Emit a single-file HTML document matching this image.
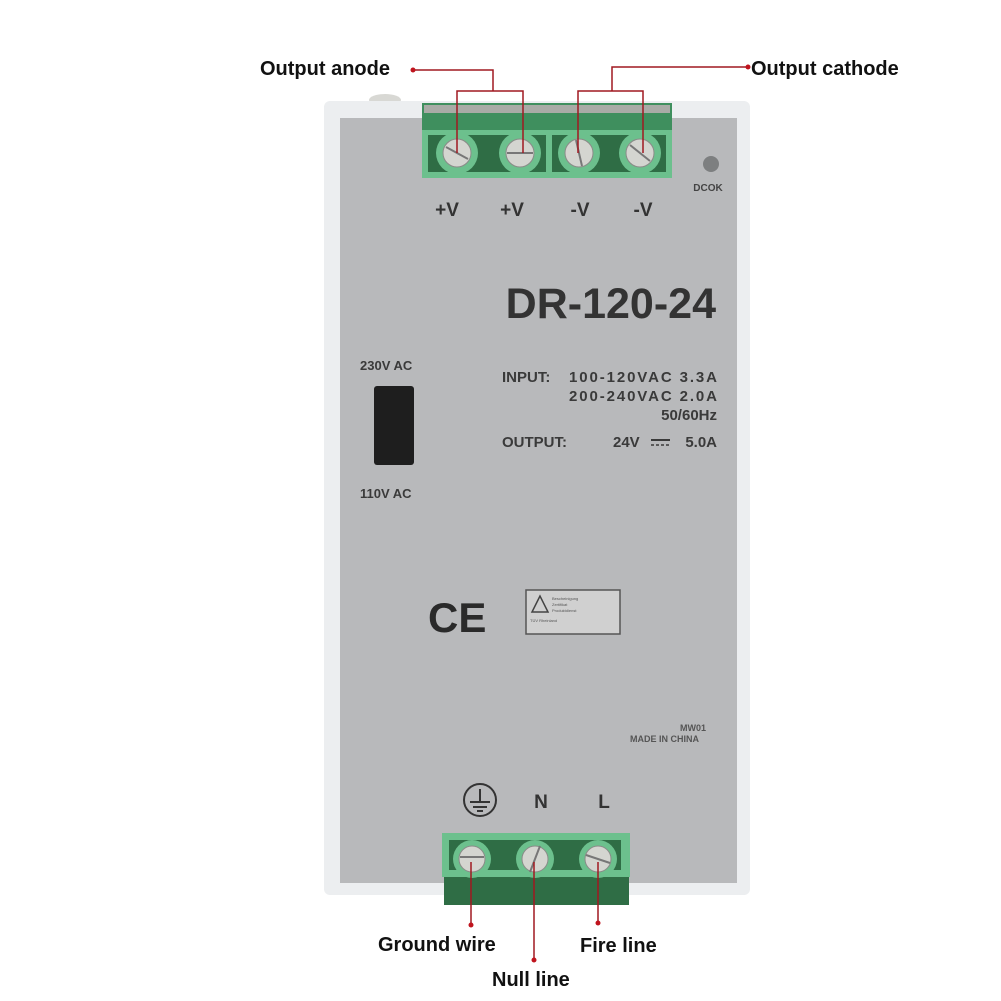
<!DOCTYPE html>
<html><head><style>
html,body{margin:0;padding:0;background:#fff;}
svg{display:block;font-family:"Liberation Sans",Arial,sans-serif;}
</style></head><body>
<svg width="1001" height="1001" viewBox="0 0 1001 1001" xmlns="http://www.w3.org/2000/svg">
<rect width="1001" height="1001" fill="#fff"/>
<ellipse cx="385" cy="100" rx="16" ry="6" fill="#d8d8d4"/>
<rect x="324" y="101" width="426" height="794" rx="6" fill="#eceef0"/>
<rect x="340" y="118" width="397" height="765" fill="#b8b9bb"/>
<rect x="422" y="103" width="250" height="40" fill="#3f8f5e"/>
<rect x="424" y="105" width="246" height="8" fill="#a9aba6"/>
<rect x="422" y="130" width="250" height="48" fill="#6cc08d"/>
<rect x="428" y="135" width="118" height="37" fill="#2f6d45"/>
<rect x="552" y="135" width="114" height="37" fill="#2f6d45"/>
<g fill="#6cc08d">
<circle cx="457" cy="153" r="21"/><circle cx="520" cy="153" r="21"/>
<circle cx="579" cy="153" r="21"/><circle cx="640" cy="153" r="21"/>
</g>
<g fill="#d4d5d0" stroke="#8a8b88" stroke-width="1">
<circle cx="457" cy="153" r="14"/><circle cx="520" cy="153" r="14"/>
<circle cx="579" cy="153" r="14"/><circle cx="640" cy="153" r="14"/>
</g>
<g stroke="#777" stroke-width="2">
<line x1="446" y1="147" x2="468" y2="159"/><line x1="507" y1="153" x2="533" y2="153"/>
<line x1="576" y1="140" x2="582" y2="166"/><line x1="630" y1="145" x2="650" y2="161"/>
</g>
<circle cx="711" cy="164" r="8" fill="#7d7f80"/>
<text x="708" y="191" font-size="10" font-weight="bold" fill="#444" text-anchor="middle">DCOK</text>
<g font-size="19" font-weight="bold" fill="#333" text-anchor="middle">
<text x="447" y="216">+V</text><text x="512" y="216">+V</text>
<text x="580" y="216">-V</text><text x="643" y="216">-V</text>
</g>
<text x="716" y="318" font-size="43" font-weight="bold" fill="#333" text-anchor="end">DR-120-24</text>
<g font-size="15" font-weight="bold" fill="#3a3a3a">
<text x="502" y="382">INPUT:</text>
<text x="569" y="382" textLength="148" lengthAdjust="spacing">100-120VAC 3.3A</text>
<text x="569" y="401" textLength="148" lengthAdjust="spacing">200-240VAC 2.0A</text>
<text x="717" y="420" text-anchor="end">50/60Hz</text>
<text x="502" y="447">OUTPUT:</text>
<text x="613" y="447">24V</text>
<text x="717" y="447" text-anchor="end">5.0A</text>
</g>
<g font-size="13" font-weight="bold" fill="#3a3a3a">
<text x="360" y="370">230V AC</text>
<text x="360" y="498">110V AC</text>
</g>
<line x1="651" y1="440" x2="670" y2="440" stroke="#3a3a3a" stroke-width="2"/>
<line x1="651" y1="445" x2="670" y2="445" stroke="#3a3a3a" stroke-width="1.5" stroke-dasharray="3,2"/>
<rect x="374" y="386" width="40" height="79" rx="3" fill="#1e1e1e"/>
<text x="428" y="632" font-size="42" font-weight="bold" fill="#2a2a2a">CE</text>
<rect x="526" y="590" width="94" height="44" fill="#d0d0d0" stroke="#555" stroke-width="1.5"/>
<polygon points="540,596 532,612 548,612" fill="none" stroke="#444" stroke-width="1.5"/>
<g fill="#555" font-size="4"><text x="552" y="600">Bescheinigung</text><text x="552" y="606">Zertifikat</text><text x="552" y="612">Produktdienst</text><text x="530" y="622">TÜV Rheinland</text></g>
<g font-size="9" font-weight="bold" fill="#555">
<text x="680" y="731">MW01</text>
<text x="630" y="742">MADE IN CHINA</text>
</g>
<circle cx="480" cy="800" r="16" fill="none" stroke="#333" stroke-width="2"/>
<g stroke="#333" stroke-width="2"><line x1="480" y1="789" x2="480" y2="802"/><line x1="470" y1="802" x2="490" y2="802"/><line x1="473" y1="807" x2="487" y2="807"/><line x1="477" y1="811" x2="483" y2="811"/></g>
<text x="541" y="808" font-size="19" font-weight="bold" fill="#333" text-anchor="middle">N</text>
<text x="604" y="808" font-size="19" font-weight="bold" fill="#333" text-anchor="middle">L</text>
<rect x="444" y="875" width="185" height="30" fill="#2f6d45"/>
<rect x="442" y="833" width="188" height="44" fill="#6cc08d"/>
<rect x="449" y="840" width="172" height="30" fill="#2f6d45"/>
<g fill="#6cc08d"><circle cx="472" cy="859" r="19"/><circle cx="535" cy="859" r="19"/><circle cx="598" cy="859" r="19"/></g>
<g fill="#d4d5d0" stroke="#8a8b88"><circle cx="472" cy="859" r="13"/><circle cx="535" cy="859" r="13"/><circle cx="598" cy="859" r="13"/></g>
<g stroke="#777" stroke-width="2"><line x1="460" y1="857" x2="484" y2="857"/><line x1="540" y1="846" x2="530" y2="872"/><line x1="586" y1="855" x2="610" y2="863"/></g>
<g stroke="#a01820" stroke-width="1.5" fill="none">
<polyline points="413,70 493,70 493,91"/>
<polyline points="457,153 457,91 523,91 523,153"/>
<polyline points="748,67 612,67 612,91"/>
<polyline points="578,153 578,91 643,91 643,153"/>
<line x1="471" y1="862" x2="471" y2="925"/>
<line x1="534" y1="862" x2="534" y2="960"/>
<line x1="598" y1="862" x2="598" y2="923"/>
</g>
<g fill="#c0141e"><circle cx="413" cy="70" r="2.5"/><circle cx="748" cy="67" r="2.5"/>
<circle cx="471" cy="925" r="2.5"/><circle cx="534" cy="960" r="2.5"/><circle cx="598" cy="923" r="2.5"/></g>
<g font-size="20" font-weight="bold" fill="#111">
<text x="260" y="75">Output anode</text>
<text x="751" y="75">Output cathode</text>
<text x="378" y="951">Ground wire</text>
<text x="492" y="986">Null line</text>
<text x="580" y="952">Fire line</text>
</g>
</svg>
</body></html>
